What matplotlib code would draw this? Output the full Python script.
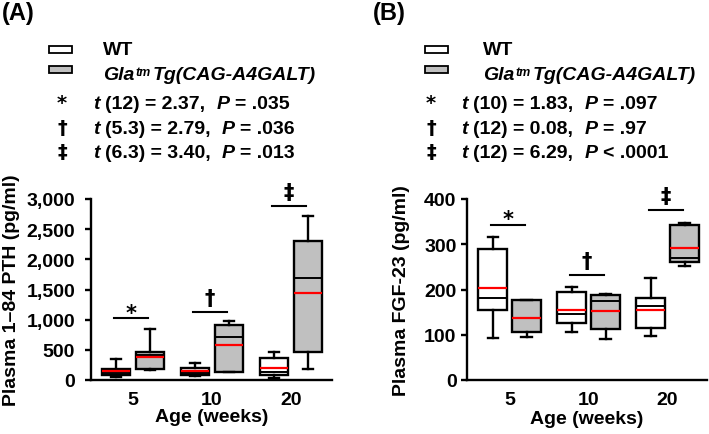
import matplotlib
matplotlib.use('Agg')
import matplotlib.pyplot as plt
from matplotlib.patches import Rectangle
from matplotlib.ticker import StrMethodFormatter

plt.rcParams['font.family'] = ['Liberation Sans', 'DejaVu Sans']
plt.rcParams['font.weight'] = 'bold'
plt.rcParams['axes.labelweight'] = 'bold'

W, H = 709, 435
FS = 14
SYM_FONT = 'DejaVu Sans'

ages = ['5', '10', '20']
sig_symbols = ['*', '\u2020', '\u2021']

# (A) plasma 1-84 PTH, pg/ml
pth_wt_lo = [44, 61, 25]
pth_wt_q1 = [80, 75, 88]
pth_wt_med = [116, 110, 125]
pth_wt_q3 = [175, 193, 362]
pth_wt_hi = [345, 287, 466]
pth_wt_mean = [144, 144, 199]

pth_tg_lo = [166, 125, 180]
pth_tg_q1 = [182, 127, 467]
pth_tg_med = [420, 707, 1690]
pth_tg_q3 = [459, 917, 2309]
pth_tg_hi = [845, 972, 2720]
pth_tg_mean = [376, 586, 1436]

pth_sig_y = [1025, 1135, 2888]
pth_stats = [('(12) = 2.37,', '= .035'),
             ('(5.3) = 2.79,', '= .036'),
             ('(6.3) = 3.40,', '= .013')]

# (B) plasma FGF-23, pg/ml
fgf_wt_lo = [92, 105, 97]
fgf_wt_q1 = [154, 127, 116]
fgf_wt_med = [182, 145, 164]
fgf_wt_q3 = [290, 194, 181]
fgf_wt_hi = [315, 205, 225]
fgf_wt_mean = [204, 155, 155]

fgf_tg_lo = [95, 91, 251]
fgf_tg_q1 = [106, 113, 261]
fgf_tg_med = [137, 175, 270]
fgf_tg_q3 = [177, 188, 343]
fgf_tg_hi = [177, 190, 346]
fgf_tg_mean = [138, 153, 292]

fgf_sig_y = [343, 232, 376]
fgf_stats = [('(10) = 1.83,', '= .097'),
             ('(12) = 0.08,', '= .97'),
             ('(12) = 6.29,', '< .0001')]


def make_stats(lo, q1, med, q3, hi, mean):
    return [dict(whislo=a, q1=b, med=c, q3=d, whishi=e, mean=f)
            for a, b, c, d, e, f in zip(lo, q1, med, q3, hi, mean)]


def draw_boxes(ax, st, pos, face):
    ax.bxp(st, positions=pos, widths=0.36, patch_artist=True,
           showmeans=True, meanline=True, showfliers=False,
           manage_ticks=False, capwidths=0.13,
           boxprops=dict(facecolor=face, edgecolor='black', linewidth=1.7),
           medianprops=dict(color='black', linewidth=1.4),
           meanprops=dict(color='red', linestyle='-', linewidth=1.6),
           whiskerprops=dict(color='black', linewidth=1.7),
           capprops=dict(color='black', linewidth=1.7))


def segments(ax, x, y, segs):
    # segs: (text, italic, gap in points before it); x, y in pixels from top-left
    prev = None
    for s, it, gap in segs:
        style = 'italic' if it else 'normal'
        if prev is None:
            prev = ax.annotate(s, xy=(x, H - y), xycoords='figure pixels',
                               fontsize=FS, style=style, ha='left', va='baseline')
        else:
            prev = ax.annotate(s, xy=(1, 0), xycoords=prev, xytext=(gap, 0),
                               textcoords='offset points', fontsize=FS,
                               style=style, ha='left', va='bottom')
    return prev


def legend_block(ax, rect_x, text_x, sym_x, stat_x, stats):
    for yy, face in [(47, 'white'), (67, '#c0c0c0')]:
        ax.figure.add_artist(Rectangle((rect_x / W, 1 - (yy + 7) / H), 23 / W, 7 / H,
                                       transform=ax.figure.transFigure,
                                       facecolor=face, edgecolor='black', lw=1.3))
    ax.annotate('WT', xy=(text_x, H - 55), xycoords='figure pixels',
                fontsize=FS, ha='left', va='baseline')
    gla = ax.annotate('Gla', xy=(text_x, H - 80), xycoords='figure pixels',
                      fontsize=FS, style='italic', ha='left', va='baseline')
    tm = ax.annotate('tm', xy=(1, 1), xycoords=gla, xytext=(0.5, 0),
                     textcoords='offset points', fontsize=9, style='italic',
                     ha='left', va='top')
    ax.annotate('Tg(CAG-A4GALT)', xy=(1, 0), xycoords=(tm, gla), xytext=(1.5, 0),
                textcoords='offset points', fontsize=FS, style='italic',
                ha='left', va='bottom')
    for i, (mid, tail) in enumerate(stats):
        base = [109, 134, 158][i]
        ax.annotate(sig_symbols[i], xy=(sym_x, H - base), xycoords='figure pixels',
                    fontsize=FS, family=SYM_FONT, ha='center', va='baseline')
        segments(ax, stat_x, base, [('t', True, 0), (mid, False, 4),
                                    ('P', True, 8), (tail, False, 4)])


def panel(ax, wt, tg, sig_y, ymax, ystep, xlim):
    centers = [1, 2, 3]
    draw_boxes(ax, wt, [c - 0.215 for c in centers], 'white')
    draw_boxes(ax, tg, [c + 0.215 for c in centers], '#c0c0c0')
    for c, y, s in zip(centers, sig_y, sig_symbols):
        ax.plot([c - 0.24, c + 0.19], [y, y], color='black', lw=1.5, clip_on=False)
        lift = -0.5 if s == '*' else 5.5
        ax.annotate(s, xy=(c - 0.025, y), xytext=(0, lift), textcoords='offset points',
                    fontsize=FS + 1, family=SYM_FONT, ha='center', va='baseline',
                    annotation_clip=False)
    ax.set_xlim(*xlim)
    ax.set_ylim(0, ymax)
    ax.set_yticks(range(0, ymax + 1, ystep))
    ax.set_xticks(centers)
    ax.set_xticklabels(ages)
    ax.spines['top'].set_visible(False)
    ax.spines['right'].set_visible(False)
    ax.spines['left'].set_linewidth(1.7)
    ax.spines['bottom'].set_linewidth(1.7)
    ax.tick_params(axis='x', length=0, pad=8, labelsize=FS)
    ax.tick_params(axis='y', length=4.5, width=1.7, labelsize=FS)
    ax.set_xlabel('Age (weeks)', fontsize=FS)


fig = plt.figure(figsize=(W / 100, H / 100), dpi=100)
axA = fig.add_axes([91 / W, 54 / H, 241 / W, 181 / H])
axB = fig.add_axes([467 / W, 54 / H, 240 / W, 181 / H])

panel(axA, make_stats(pth_wt_lo, pth_wt_q1, pth_wt_med, pth_wt_q3, pth_wt_hi, pth_wt_mean),
      make_stats(pth_tg_lo, pth_tg_q1, pth_tg_med, pth_tg_q3, pth_tg_hi, pth_tg_mean),
      pth_sig_y, 3000, 500, (0.468, 3.52))
axA.yaxis.set_major_formatter(StrMethodFormatter('{x:,.0f}'))
axA.tick_params(axis='y', pad=7)
axA.set_ylabel('Plasma 1\u201384 PTH (pg/ml)', fontsize=FS, va='center')
axA.yaxis.set_label_coords((12 - 91) / 241, 0.5)
axA.xaxis.set_label_coords(0.5, (381 - 418) / 181)
axA.xaxis.label.set_va('center')

panel(axB, make_stats(fgf_wt_lo, fgf_wt_q1, fgf_wt_med, fgf_wt_q3, fgf_wt_hi, fgf_wt_mean),
      make_stats(fgf_tg_lo, fgf_tg_q1, fgf_tg_med, fgf_tg_q3, fgf_tg_hi, fgf_tg_mean),
      fgf_sig_y, 400, 100, (0.46, 3.5))
axB.tick_params(axis='y', pad=3)
axB.set_ylabel('Plasma FGF-23 (pg/ml)', fontsize=FS, va='center')
axB.yaxis.set_label_coords((402 - 467) / 240, 0.5)
axB.xaxis.set_label_coords(0.5, (381 - 420) / 181)
axB.xaxis.label.set_va('center')

fig.text(2 / W, 1 - 20 / H, '(A)', fontsize=17, ha='left', va='baseline')
fig.text(373 / W, 1 - 20 / H, '(B)', fontsize=17, ha='left', va='baseline')

legend_block(axA, 49, 103, 62, 93, pth_stats)
legend_block(axB, 425, 483, 431, 461, fgf_stats)

fig.savefig('out.png', dpi=100)
